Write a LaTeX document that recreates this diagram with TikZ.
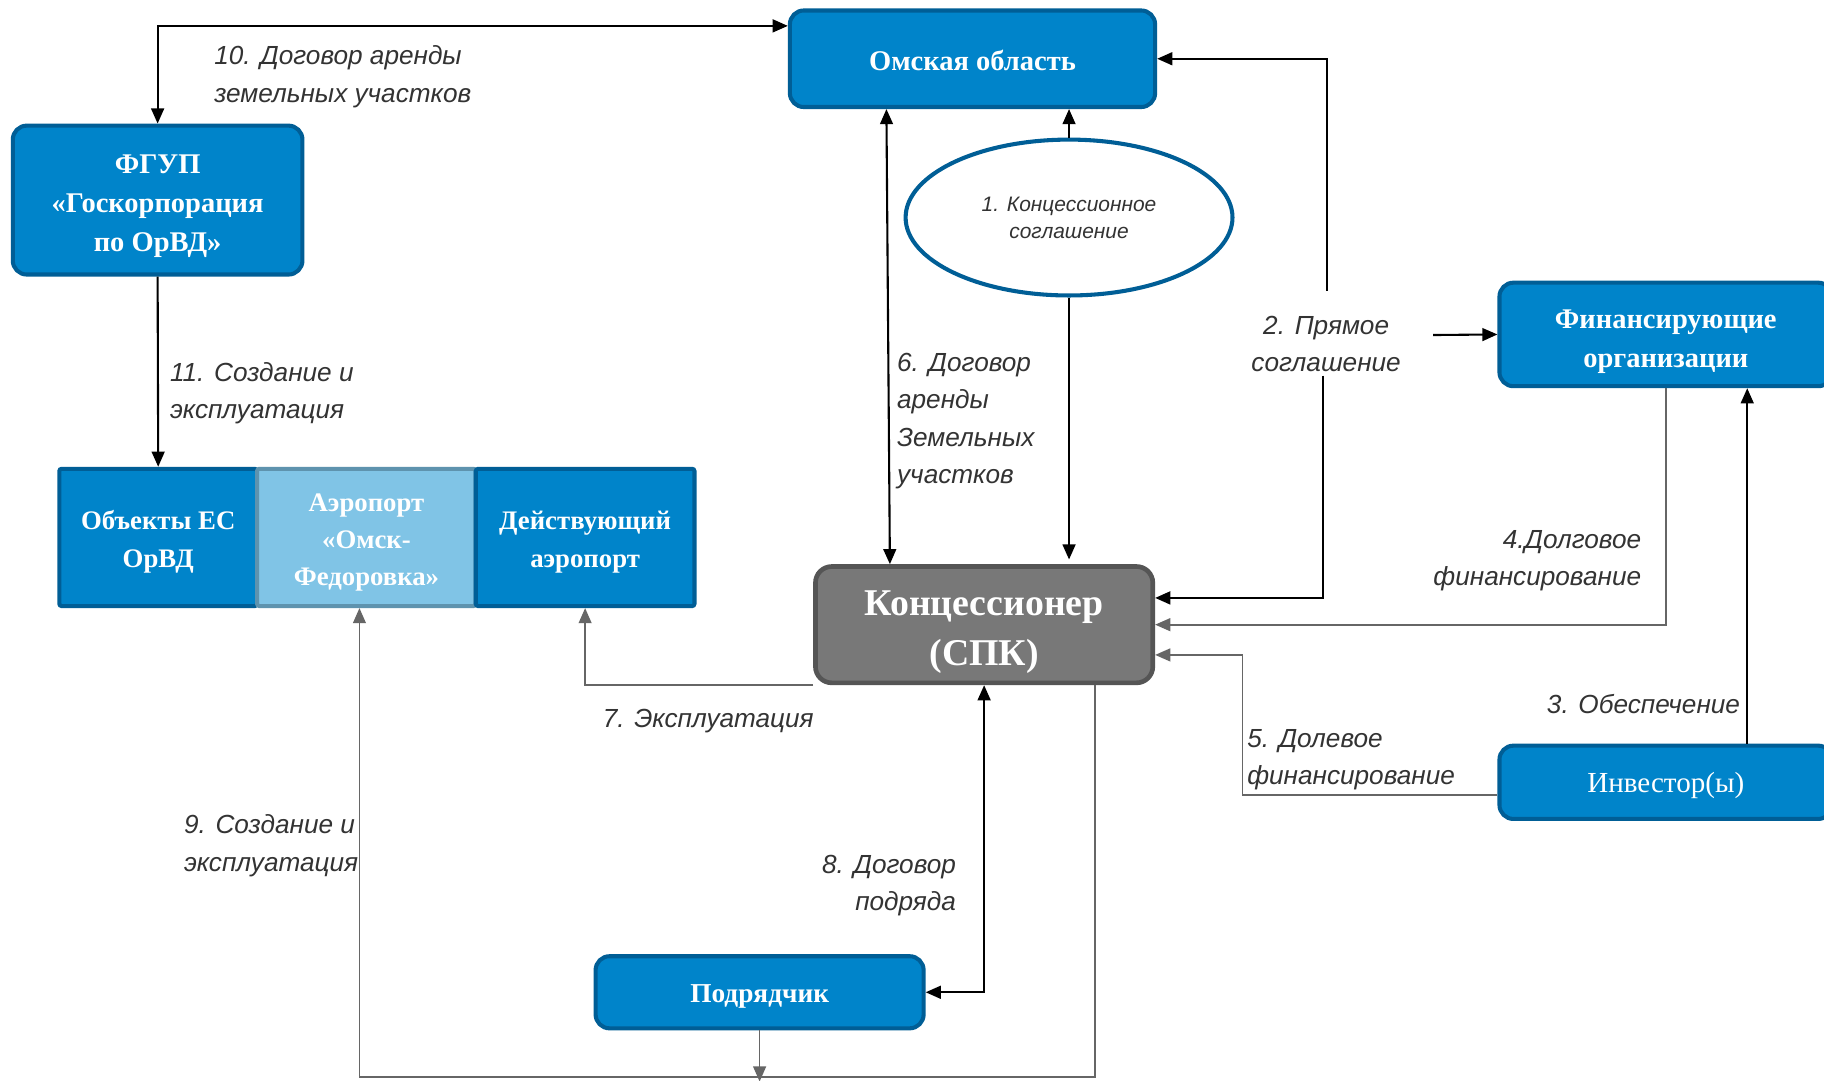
\documentclass[tikz,border=0pt]{standalone}
\usepackage{fontspec}
\setmainfont{Liberation Serif}
\newfontfamily\lsans{Liberation Sans}
\usetikzlibrary{arrows.meta,shapes.geometric,calc}
\definecolor{boxblue}{HTML}{0084CA}
\definecolor{boxedge}{HTML}{005E96}
\definecolor{lightblue}{HTML}{80C4E6}
\definecolor{lightedge}{HTML}{5E93AE}
\definecolor{koncfill}{HTML}{787878}
\definecolor{koncedge}{HTML}{555555}
\definecolor{labeltext}{HTML}{333333}
\definecolor{grayline}{HTML}{666666}
\begin{document}
\begin{tikzpicture}[x=1pt,y=-1pt,
  >={Triangle[length=13pt,width=11pt]},
  bluebox/.style={draw=boxedge, fill=boxblue, line width=3.5pt, rounded corners=12pt,
    text=white, align=center, inner sep=0pt, font=\bfseries\fontsize{24.5}{33.5}\selectfont},
  sqbox/.style={bluebox, rounded corners=2pt, font=\bfseries\fontsize{23}{32}\selectfont},
  lightbox/.style={sqbox, fill=lightblue, draw=lightedge},
  koncbox/.style={draw=koncedge, fill=koncfill, line width=4pt, rounded corners=14pt,
    text=white, align=center, inner sep=0pt, font=\bfseries\fontsize{32.5}{43}\selectfont},
  ellbox/.style={ellipse, draw=boxedge, fill=white, line width=3.5pt, inner sep=0pt,
    align=center, text=labeltext, font=\lsans\itshape\fontsize{18}{23}\selectfont},
  lbl/.style={font=\lsans\itshape\fontsize{22.5}{32}\selectfont, text=labeltext, inner sep=0pt},
  conn/.style={line width=1.8pt, draw=black},
  gconn/.style={line width=1.5pt, draw=grayline}
]
\useasboundingbox (0,0) rectangle (1568,929);
\fill[white] (0,0) rectangle (1568,929);

% nodes
\node[bluebox, minimum width=314pt, minimum height=83pt] (omsk) at (836,50.5) {\rule{0pt}{20pt}Омская область};
\node[bluebox, minimum width=249pt, minimum height=128pt] (fgup) at (135.5,172) {\rule{0pt}{26pt}ФГУП\\«Госкорпорация\\по ОрВД»};
\node[ellbox, minimum width=281pt, minimum height=134pt] (ell) at (919,187) {1. Концессионное\\соглашение};
\node[bluebox, minimum width=286pt, minimum height=89pt] (fin) at (1432,287.5) {\rule{0pt}{29pt}Финансирующие\\организации};
\node[sqbox, minimum width=170pt, minimum height=118pt] (obj) at (136,462) {\rule{0pt}{24pt}Объекты ЕС\\ОрВД};
\node[lightbox, minimum width=188pt, minimum height=118pt] (aer) at (315,462) {\rule{0pt}{24pt}Аэропорт\\«Омск-\\Федоровка»};
\node[sqbox, minimum width=188pt, minimum height=118pt] (act) at (503,462) {\rule{0pt}{24pt}Действующий\\аэропорт};
\node[koncbox, minimum width=290pt, minimum height=100pt] (konc) at (846,537) {\rule{0pt}{34pt}Концессионер\\(СПК)};
\node[bluebox, minimum width=286pt, minimum height=63pt, font=\fontsize{25}{30}\selectfont] (inv) at (1432,672.5) {\rule{0pt}{22pt}Инвестор(ы)};
\node[bluebox, minimum width=282pt, minimum height=62pt, font=\bfseries\fontsize{23.5}{30}\selectfont] (podr) at (653,853) {\rule{0pt}{22pt}Подрядчик};

% free ends
\coordinate (p2a) at (1137,323);
\coordinate (p2b) at (1141,250);
\coordinate (p2c) at (1232,288);
\coordinate (c5) at (1068,563);

% connectors
\draw[conn,<->] (fgup.north) |- ([yshift=-15pt]omsk.north west);
\draw[conn,->] (fgup.south) -- (obj.north);
\draw[conn,<->] ([xshift=-74pt]omsk.south) -- ([xshift=-81pt]konc.north);
\draw[conn,->] (ell.north) -- (ell.north |- omsk.south);
\draw[conn,->] (ell.south) -- ([yshift=4pt]ell.south |- konc.north);
\draw[conn,->] (p2a) |- ([yshift=23pt]konc.east);
\draw[conn,->] (p2b) |- (omsk.east);
\draw[conn,->] (p2c) -- (fin.west);
\draw[gconn,->] (fin.south) |- (konc.east);
\draw[conn,->] ([xshift=70pt]inv.north) -- ([xshift=70pt]fin.south);
\draw[gconn,->] ([yshift=-11pt]inv.west) -| (c5) -- ([yshift=-26pt]konc.east);
\draw[gconn,->] (konc.south west) -| (act.south);
\draw[conn,<->] (konc.south) |- (podr.east);
\draw[gconn,->] ([xshift=95pt]konc.south) -- ++(0,337) -| ([xshift=-6pt]aer.south);
\draw[gconn,->] (podr.south) -- ++(0,44);

% labels
\node[lbl, anchor=west, align=left] (l10) at (184,66) {10. Договор аренды\\земельных участков};
\node[lbl, anchor=west, align=left] (l11) at (146,338) {11. Создание и\\эксплуатация};
\node[lbl, anchor=west, align=left] (l6) at (771,362) {6. Договор\\аренды\\Земельных\\участков};
\node[lbl, align=center] (l2) at (1140,296) {2. Прямое\\соглашение};
\node[lbl, anchor=east, align=right] (l4) at (1411,482) {4.Долговое\\финансирование};
\node[lbl, anchor=east, align=right] (l3) at (1496,605) {3. Обеспечение};
\node[lbl, anchor=west, align=left] (l5) at (1072,653) {5. Долевое\\финансирование};
\node[lbl, anchor=west, align=left] (l7) at (518,620) {7. Эксплуатация};
\node[lbl, anchor=west, align=left] (l9) at (158,727) {9. Создание и\\эксплуатация};
\node[lbl, anchor=east, align=right] (l8) at (822,761) {8. Договор\\подряда};
\end{tikzpicture}
\end{document}
